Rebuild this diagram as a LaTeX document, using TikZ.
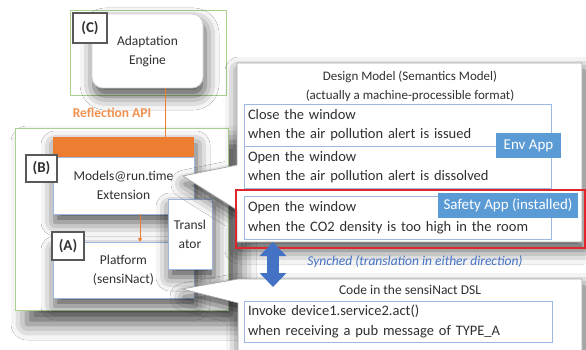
\documentclass[tikz,border=0pt]{standalone}
\usepackage{fontspec}
\setmainfont{Carlito}
\usetikzlibrary{shadows.blur,arrows.meta}

\definecolor{frameGreen}{HTML}{A9D18E}
\definecolor{accentOrange}{HTML}{ED7D31}
\definecolor{ruleBlue}{HTML}{9DB7E2}
\definecolor{tagBlue}{HTML}{5B9BD5}
\definecolor{syncBlue}{HTML}{4472C4}
\definecolor{alertRed}{HTML}{E0262B}
\definecolor{panelGray}{HTML}{A6A6A6}
\definecolor{labelGray}{HTML}{595959}
\definecolor{txt}{HTML}{303030}

\tikzset{
  box/.style={anchor=north west, inner sep=0pt, outer sep=0pt, align=center},
  greenframe/.style={draw=frameGreen, line width=0.8pt},
  softshadow/.style={blur shadow={shadow xshift=2pt, shadow yshift=-8pt,
      shadow blur radius=14pt, shadow opacity=70}},
  frameshadow/.style={blur shadow={shadow xshift=12pt, shadow yshift=-14pt,
      shadow blur radius=16pt, shadow opacity=65}},
  compbox/.style={box, draw=ruleBlue, fill=white, line width=0.9pt,
      font=\fontsize{13.5}{19}\selectfont, text=txt},
  tagbox/.style={box, draw=labelGray, fill=white, line width=1.2pt,
      font=\bfseries\fontsize{15}{16}\selectfont, text=txt},
  rulebox/.style={box, draw=ruleBlue, fill=white, line width=0.8pt, align=left,
      font=\fontsize{14.5}{19.5}\selectfont, text=txt},
  appbox/.style={box, fill=tagBlue, text=white, font=\fontsize{15}{16}\selectfont},
  panel/.style={fill=white, draw=panelGray, line width=0.7pt, softshadow},
}

\begin{document}
\begin{tikzpicture}[x=1pt, y=-1pt]
\useasboundingbox (0,0) rectangle (586,350);
\fill[white] (0,0) rectangle (586,350);

% ---------- outer frames ----------
\fill[white, frameshadow] (15,128) rectangle (228,310);
\fill[white] (70,10) rectangle (226,95);
\draw[greenframe] (70,10) rectangle (226,95);
\draw[greenframe] (15,128) rectangle (228,310);

% ---------- (C) adaptation engine ----------
\node[box, draw=panelGray!50, fill=white, rounded corners=11pt, line width=0.8pt,
      minimum width=111pt, minimum height=74pt, softshadow,
      font=\fontsize{13.5}{19}\selectfont, text=txt] (engine) at (92,14)
      {Adaptation\\Engine};
\node[tagbox, minimum width=34pt, minimum height=30pt] (ctag) at (73,13) {(C)};

% ---------- (B) models@run.time ----------
\node[box, fill=white, minimum width=141pt, minimum height=77pt, softshadow] (bshadow) at (53,137) {};
\node[box, fill=accentOrange, minimum width=141pt, minimum height=20pt] (bhead) at (53,137) {};
\node[compbox, minimum width=141pt, minimum height=57pt] (bbox) at (53,157)
      {Models@run.time\\Extension};
\node[tagbox, minimum width=31pt, minimum height=27pt] (btag) at (26,155) {(B)};

% ---------- (A) platform ----------
\node[compbox, minimum width=141pt, minimum height=56pt, softshadow] (abox) at (53,242)
      {Platform\\(sensiNact)};
\node[tagbox, minimum width=32pt, minimum height=28pt] (atag) at (52,232) {(A)};

% ---------- translator ----------
\node[compbox, minimum width=44pt, minimum height=70pt, softshadow] (trans) at (168,199)
      {Transl\\ator};

% ---------- reflection link ----------
\draw[accentOrange, line width=1pt] (engine.south -| 165,0) -- (bhead.north -| 165,0);
\node[text=accentOrange!85, font=\bfseries\fontsize{13.5}{15}\selectfont] (refl) at (112,113) {Reflection API};
\draw[accentOrange, line width=1pt, -{Triangle[length=4pt,width=4pt]}]
      (bbox.south -| 140,0) -- (abox.north -| 140,0);

% ---------- design model callout ----------
\path[panel] (237,63) -- (582,63) -- (582,242) -- (237,242) -- (237,210)
      -- (183,176) -- (237,165) -- cycle;
\node[font=\fontsize{13}{19}\selectfont, text=txt, align=center] (dtitle) at (410,86)
      {Design Model (Semantics Model)\\(actually a machine-processible format)};

\node[rulebox, minimum width=307pt, minimum height=42pt, text width=299pt] (rule1) at (244,104)
      {Close the window\\when the air pollution alert is issued};
\node[rulebox, minimum width=307pt, minimum height=42pt, text width=299pt] (rule2) at (244,146)
      {Open the window\\when the air pollution alert is dissolved};
\node[appbox, minimum width=65pt, minimum height=25pt] (envapp) at (496,133) {Env App};

\node[rulebox, minimum width=307pt, minimum height=43pt, text width=299pt] (rule3) at (244,196)
      {Open the window\\when the CO2 density is too high in the room};
\draw[alertRed, line width=1.6pt] (236,190) rectangle (585.2,248);
\node[appbox, minimum width=140pt, minimum height=25pt] (safety) at (438,193) {Safety App (installed)};

% ---------- code callout ----------
\path[panel] (238,279) -- (582,279) -- (582,360) -- (238,360) -- (238,303)
      -- (182,289) -- cycle;
\node[font=\fontsize{13.5}{15}\selectfont, text=txt] (ctitle) at (410,290)
      {Code in the sensiNact DSL};
\node[rulebox, minimum width=308pt, minimum height=41pt, text width=300pt] (code) at (244,301)
      {Invoke device1.service2.act()\\when receiving a pub message of TYPE\_A};

% ---------- synchronisation ----------
\coordinate (syncTop) at (273,242);
\coordinate (syncBot) at (273,287);
\draw[syncBlue, line width=12pt,
      {Triangle[length=14pt,width=26pt]}-{Triangle[length=14pt,width=26pt]}]
      (syncTop) -- (syncBot);
\node[text=syncBlue, font=\itshape\fontsize{13.5}{15}\selectfont] (synclbl) at (415,262)
      {Synched (translation in either direction)};
\end{tikzpicture}
\end{document}
